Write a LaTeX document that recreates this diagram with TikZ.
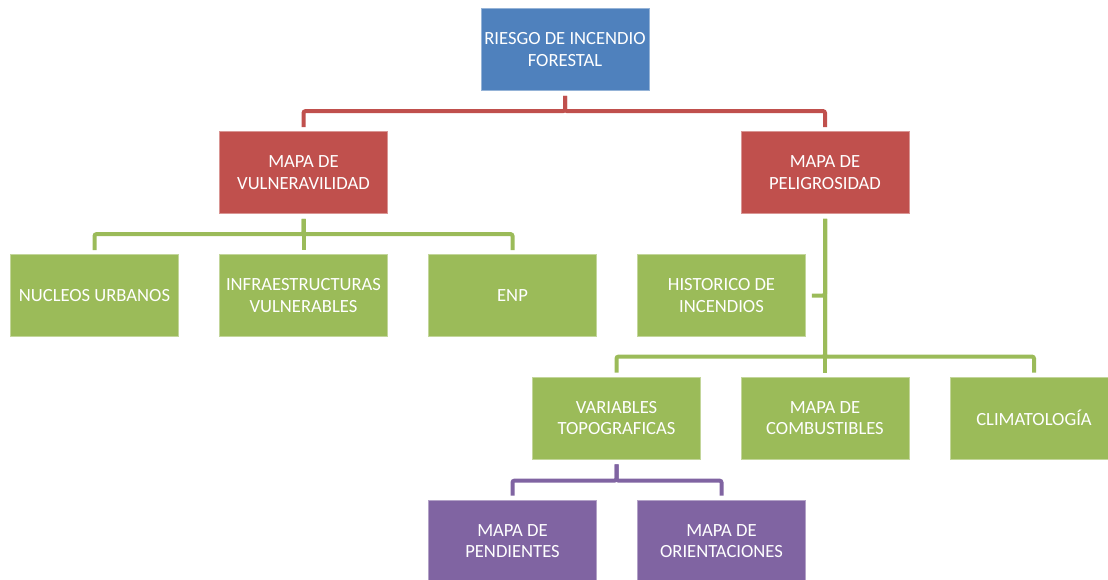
\documentclass[tikz,border=0pt]{standalone}
\usepackage{fontspec}
\setmainfont{Carlito}
\usetikzlibrary{positioning}
\definecolor{azul}{HTML}{4F81BD}
\definecolor{rojo}{HTML}{C0504D}
\definecolor{verde}{HTML}{9BBB59}
\definecolor{morado}{HTML}{8064A2}
\tikzset{
  caja/.style={rectangle, minimum width=168pt, minimum height=82pt, inner sep=2pt,
    align=center, text=white, line width=0.8pt,
    font=\fontsize{18.6pt}{21.5pt}\selectfont},
  raiz/.style={caja, fill=azul, draw=azul!60!white},
  mapa/.style={caja, fill=rojo, draw=rojo!60!white},
  capa/.style={caja, fill=verde, draw=verde!60!white},
  sub/.style={caja, fill=morado, draw=morado!60!white},
  rama/.style={line width=4pt, rounded corners=2pt, shorten <=5pt, shorten >=4pt}
}

\begin{document}
\begin{tikzpicture}[node distance=123pt]
\useasboundingbox (0,0) rectangle (1108pt,-579pt);
\clip (0,0) rectangle (1108pt,-579pt);

\node[raiz] (riesgo) at (565pt,-49.5pt) {RIESGO DE INCENDIO\\FORESTAL};
\node[mapa, below of=riesgo, xshift=-261.5pt] (vulne) {MAPA DE\\VULNERAVILIDAD};
\node[mapa, below of=riesgo, xshift=260pt] (peligro) {MAPA DE\\PELIGROSIDAD};

\node[capa, below of=vulne] (infra) {INFRAESTRUCTURAS\\VULNERABLES};
\node[capa, left of=infra, node distance=209pt] (nucleos) {NUCLEOS URBANOS};
\node[capa, right of=infra, node distance=209pt] (enp) {ENP};
\node[capa, right of=enp, node distance=209pt] (historico) {HISTORICO DE\\INCENDIOS};

\node[capa, below of=peligro, node distance=245.5pt] (combust) {MAPA DE\\COMBUSTIBLES};
\node[capa, left of=combust, node distance=208.5pt] (variables) {VARIABLES\\TOPOGRAFICAS};
\node[capa, right of=combust, node distance=209pt] (clima) {CLIMATOLOGÍA};

\node[sub, below of=variables, xshift=-104pt] (pendientes) {MAPA DE\\PENDIENTES};
\node[sub, right of=pendientes, node distance=209pt] (orient) {MAPA DE\\ORIENTACIONES};

\draw[rama, rojo] (riesgo.south) |- ([yshift=20pt]vulne.north) -- (vulne.north);
\draw[rama, rojo] (riesgo.south) |- ([yshift=20pt]peligro.north) -- (peligro.north);

\draw[rama, verde] (vulne.south) |- ([yshift=20pt]nucleos.north) -- (nucleos.north);
\draw[rama, verde] (vulne.south) -- (infra.north);
\draw[rama, verde] (vulne.south) |- ([yshift=20pt]enp.north) -- (enp.north);

\draw[rama, verde, shorten >=6pt] (peligro.south) |- (historico.east);
\draw[rama, verde] (peligro.south) |- ([yshift=20pt]variables.north) -- (variables.north);
\draw[rama, verde] (peligro.south) -- (combust.north);
\draw[rama, verde] (peligro.south) |- ([yshift=20pt]clima.north) -- (clima.north);

\draw[rama, morado] (variables.south) |- ([yshift=19pt]pendientes.north) -- (pendientes.north);
\draw[rama, morado] (variables.south) |- ([yshift=19pt]orient.north) -- (orient.north);
\end{tikzpicture}
\end{document}
